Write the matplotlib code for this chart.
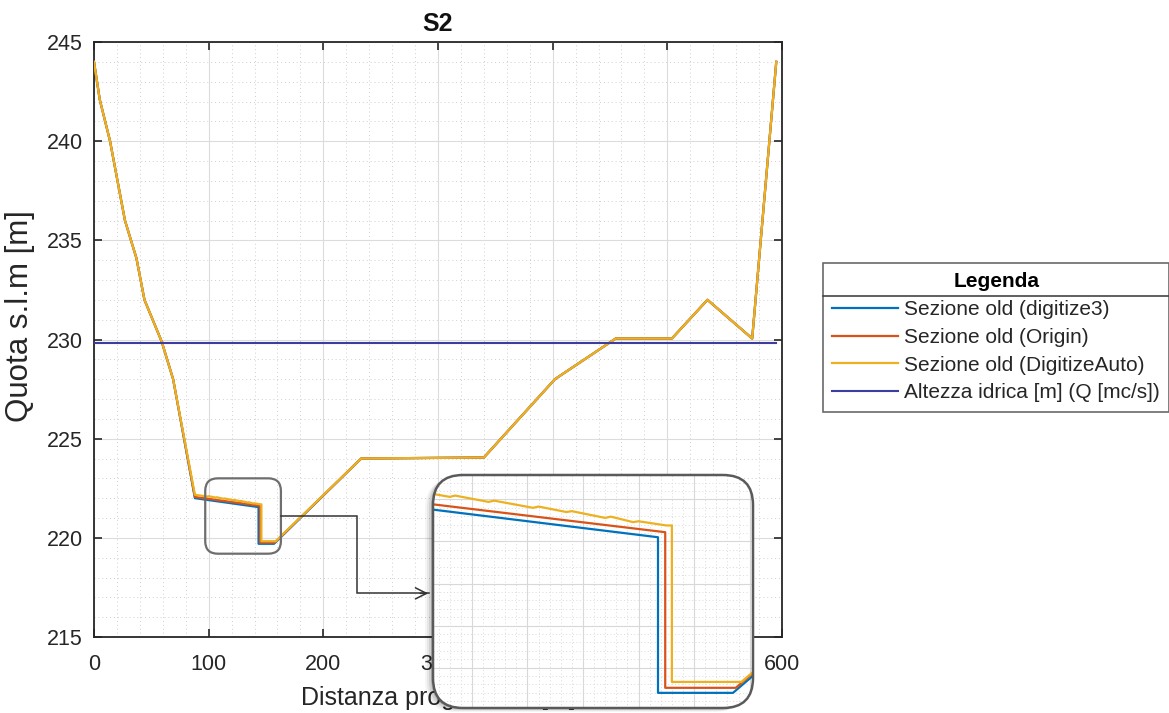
import numpy as np
import matplotlib
matplotlib.use("Agg")
import matplotlib.pyplot as plt
from matplotlib.patches import FancyBboxPatch
from matplotlib.lines import Line2D
from matplotlib.ticker import MultipleLocator

plt.rcParams['font.family'] = ['Liberation Sans', 'DejaVu Sans']

# ---------------- data ----------------
x_digitize3 = [0, 5, 14, 27, 37, 44, 59, 69, 88, 143.5, 143.5, 157, 233, 340, 402, 455, 504, 535, 574, 595]
y_digitize3 = [244.0, 242.1, 240.0, 236.0, 234.1, 232.0, 229.9, 228.0, 222.0, 221.55, 219.70, 219.70,
               224.0, 224.05, 228.0, 230.05, 230.05, 232.0, 230.05, 244.0]

x_origin = [0, 5, 14, 27, 37, 44, 59, 69, 88, 144.8, 144.8, 157.5, 233, 340, 402, 455, 504, 535, 574, 595]
y_origin = [244.0, 242.1, 240.0, 236.0, 234.1, 232.0, 229.9, 228.0, 222.06, 221.61, 219.76, 219.76,
            224.0, 224.05, 228.0, 230.05, 230.05, 232.0, 230.05, 244.0]

x_auto = [0, 5, 14, 27, 37, 44, 59, 69, 88, 99, 100, 106, 107, 113, 114, 121, 122, 127, 128, 134, 135,
          139, 140, 145, 146.0, 146.0, 158.5, 233, 340, 402, 455, 504, 535, 574, 595]
y_auto = [244.0, 242.1, 240.0, 236.0, 234.1, 232.0, 229.9, 228.0, 222.17, 222.08, 222.10, 222.03, 222.045,
          221.97, 221.985, 221.90, 221.915, 221.85, 221.86, 221.78, 221.795, 221.73, 221.74, 221.69,
          221.69, 219.83, 219.83, 224.0, 224.05, 228.0, 230.05, 230.05, 232.0, 230.05, 244.0]

x_water = [0, 595]
y_water = [229.8, 229.8]

labels = ['Sezione old (digitize3)', 'Sezione old (Origin)',
          'Sezione old (DigitizeAuto)', 'Altezza idrica [m] (Q [mc/s])']
colors = ['#0072BD', '#D95319', '#EDB120', '#3D3D9E']

xticks = [0, 100, 200, 300, 400, 500, 600]
yticks = [215, 220, 225, 230, 235, 240, 245]

# ---------------- figure ----------------
W, H = 1169, 713
fig = plt.figure(figsize=(W / 100, H / 100), dpi=100)
fig.patch.set_facecolor('white')

def fx(px):
    return px / W

def fy(py):
    return 1 - py / H

ax = fig.add_axes([fx(94), fy(637), fx(782) - fx(94), fy(42) - fy(637)])
series = [(x_digitize3, y_digitize3), (x_origin, y_origin), (x_auto, y_auto)]
handles = []
for (xs, ys), c, lab in zip(series, colors[:3], labels[:3]):
    h, = ax.plot(xs, ys, color=c, lw=1.6, label=lab, zorder=3)
    handles.append(h)
hw, = ax.plot(x_water, y_water, color=colors[3], lw=1.5, label=labels[3], zorder=3)
handles.append(hw)

ax.set_xlim(0, 600)
ax.set_ylim(215, 245)
ax.set_xticks(xticks)
ax.set_yticks(yticks)
ax.xaxis.set_minor_locator(MultipleLocator(20))
ax.yaxis.set_minor_locator(MultipleLocator(1))
ax.grid(True, which='major', color='#dcdcdc', lw=0.8)
ax.grid(True, which='minor', color='#cfcfcf', lw=0.7, ls=(0, (1, 3)))
ax.set_axisbelow(True)
ax.tick_params(which='both', direction='in', top=True, right=True)
ax.tick_params(which='major', length=6, width=1.2, labelsize=15.5, colors='#262626')
ax.tick_params(axis='y', pad=8)
ax.tick_params(axis='x', pad=12)
ax.tick_params(which='minor', length=0)
for s in ax.spines.values():
    s.set_color('#262626')
    s.set_linewidth(1.3)
ax.set_title('S2', fontsize=18, fontweight='bold', pad=8, color='#111111')
ax.set_xlabel('Distanza progressiva [m]', fontsize=18, color='#262626')
ax.xaxis.set_label_coords(0.5, -0.083)
ax.set_ylabel('Quota s.l.m [m]', fontsize=22.5, color='#262626')
ax.yaxis.set_label_coords(-0.086, 0.54)

# small highlight rectangle (zoom region)
zx0, zx1, zy0, zy1 = 97, 163, 219.2, 223.0
asp = (1.1467 / 19.83)
small = FancyBboxPatch((zx0, zy0), zx1 - zx0, zy1 - zy0,
                       boxstyle='round,pad=0,rounding_size=11',
                       mutation_aspect=asp, fc='none', ec='#6e6e6e', lw=1.6, zorder=5)
ax.add_patch(small)

# connector with arrow
ax.plot([163.1, 229.4, 229.4, 292.0], [221.1, 221.1, 217.2, 217.2], color='#333333', lw=1.1,
        zorder=5, solid_joinstyle='miter')
ax.annotate('', xy=(293.9, 217.2), xytext=(282, 217.2),
            arrowprops=dict(arrowstyle='->,head_length=0.8,head_width=0.4', color='#333333', lw=1.1),
            zorder=5)

# ---------------- inset ----------------
bx0, by0, bw, bh = 433, 475, 320, 233   # pixels (top-left origin)
inch = fig.dpi_scale_trans
box_x, box_y = bx0 / 100, (H - by0 - bh) / 100
for off, a in [(8, 0.04), (6, 0.06), (4, 0.09), (2, 0.14)]:
    sh = FancyBboxPatch((box_x - off / 100, box_y - off / 100 * 0.5), bw / 100, bh / 100,
                        boxstyle='round,pad=0,rounding_size=0.30', transform=inch,
                        fc='black', ec='none', alpha=a, zorder=8)
    fig.add_artist(sh)
bg = FancyBboxPatch((box_x, box_y), bw / 100, bh / 100,
                    boxstyle='round,pad=0,rounding_size=0.30', transform=inch,
                    fc='white', ec='none', zorder=9)
fig.add_artist(bg)

axi = fig.add_axes([fx(bx0), 1 - (by0 + bh) / H, bw / W, bh / H], zorder=10)
axi.patch.set_visible(False)
axi.set_xlim(103.0, 160.6)
axi.set_ylim(219.52, 222.29)
axi.set_axis_off()
clip = FancyBboxPatch((box_x, box_y), bw / 100, bh / 100,
                      boxstyle='round,pad=0,rounding_size=0.30', transform=inch,
                      fc='none', ec='none')
gl = []
for v in np.arange(104, 161, 2):
    major = (v % 10 == 0)
    gl.append(axi.axvline(v, color='#d8d8d8' if major else '#dadada', lw=0.8 if major else 0.7,
                          ls='-' if major else (0, (1, 2.5)), zorder=1))
for v in np.arange(219.6, 222.3, 0.1):
    major = abs(v * 2 - round(v * 2)) < 1e-6
    gl.append(axi.axhline(v, color='#d8d8d8' if major else '#dadada', lw=0.8 if major else 0.7,
                          ls='-' if major else (0, (1, 2.5)), zorder=1))
for (xs, ys), c in zip(series, colors[:3]):
    l, = axi.plot(xs, ys, color=c, lw=1.6, zorder=3)
    gl.append(l)
for g in gl:
    g.set_clip_path(clip)
border = FancyBboxPatch((box_x, box_y), bw / 100, bh / 100,
                        boxstyle='round,pad=0,rounding_size=0.30', transform=inch,
                        fc='none', ec='#5a5a5a', lw=1.8, zorder=11)
fig.add_artist(border)

# ---------------- legend ----------------
leg = fig.legend(handles, labels, loc='upper left',
                 bbox_to_anchor=(fx(823), fy(263)), bbox_transform=fig.transFigure,
                 title='Legenda', title_fontproperties={'weight': 'bold', 'size': 15},
                 fontsize=15, frameon=True, fancybox=False, edgecolor='#444444',
                 handlelength=3.15, handletextpad=0.3, labelspacing=0.42,
                 borderpad=0.45, borderaxespad=0)
leg.get_frame().set_linewidth(1.2)
for t in leg.get_texts():
    t.set_color('#262626')

fig.canvas.draw()
r = fig.canvas.get_renderer()
lb = leg.get_window_extent(r)
tb = leg.get_title().get_window_extent(r)
ysep = tb.y0 - 5
inv = fig.transFigure.inverted()
p0 = inv.transform((lb.x0, ysep))
p1 = inv.transform((lb.x1, ysep))
fig.add_artist(Line2D([p0[0], p1[0]], [p0[1], p1[1]], transform=fig.transFigure,
                      color='#444444', lw=1.2, zorder=20))

fig.savefig('out.png', dpi=100)
